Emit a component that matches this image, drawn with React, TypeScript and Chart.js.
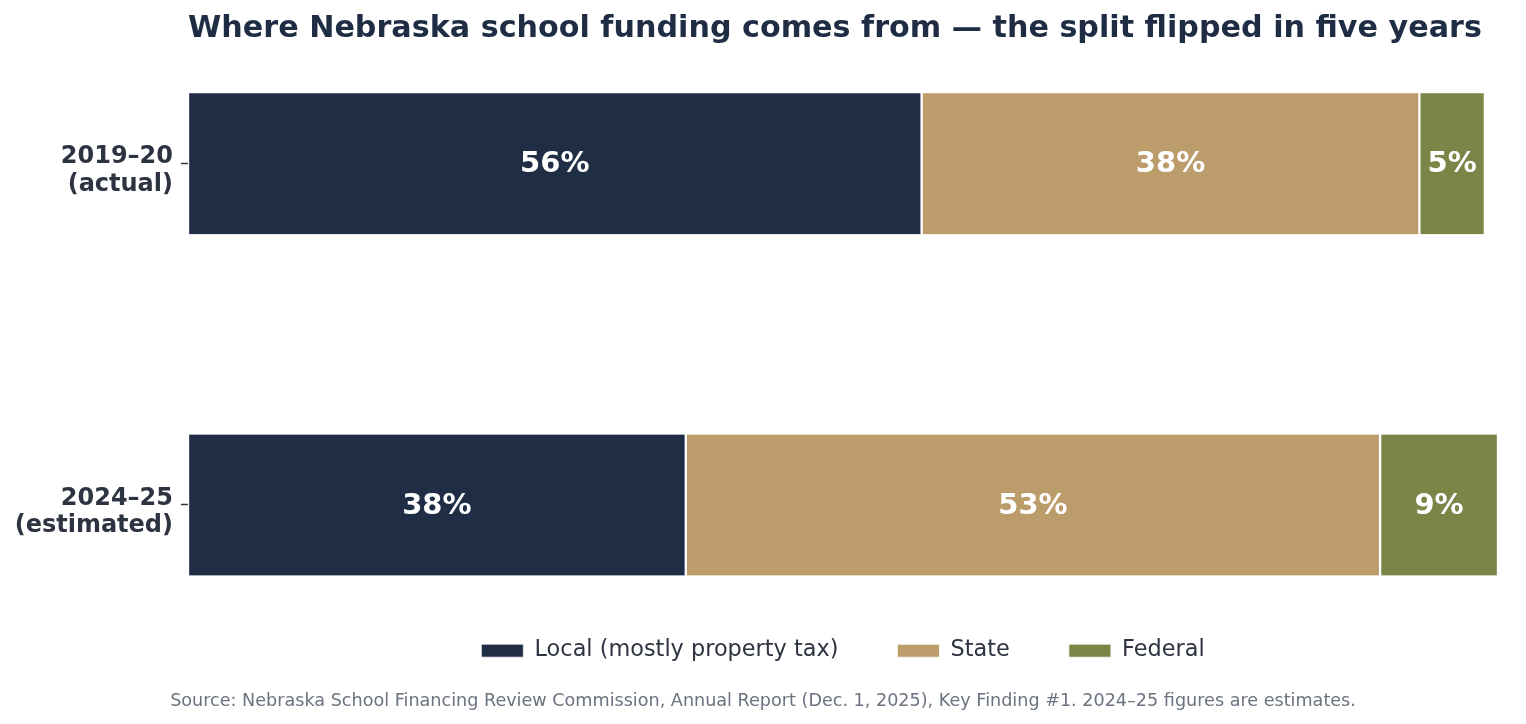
import { useEffect, useRef } from "react"
import { Chart, registerables, Plugin } from "chart.js"

Chart.register(...registerables)

const years = [["2019–20", "(actual)"], ["2024–25", "(estimated)"]]
const sources = ["Local (mostly property tax)", "State", "Federal"]
const localShare = [56, 38]
const stateShare = [38, 53]
const federalShare = [5, 9]
const colors = ["#1f2e45", "#bb9c6a", "#7a8548"]

const FONT = "'DejaVu Sans', sans-serif"

// writes the percentage in the middle of every segment
const segmentLabels: Plugin<"bar"> = {
  id: "segmentLabels",
  afterDatasetsDraw(chart) {
    const ctx = chart.ctx
    ctx.save()
    ctx.font = `bold 29px ${FONT}`
    ctx.fillStyle = "#ffffff"
    ctx.textAlign = "center"
    ctx.textBaseline = "middle"
    chart.data.datasets.forEach((ds, i) => {
      const meta = chart.getDatasetMeta(i)
      meta.data.forEach((bar: any, j) => {
        const v = ds.data[j] as number
        const { x, base, y } = bar.getProps(["x", "base", "y"], true)
        ctx.fillText(v + "%", (x + base) / 2, y + 1)
      })
    })
    ctx.restore()
  },
}

export default function App() {
  const canvasRef = useRef<HTMLCanvasElement>(null)

  useEffect(() => {
    document.body.style.margin = "0"
    if (!canvasRef.current) return
    const values = [localShare, stateShare, federalShare]
    const chart = new Chart(canvasRef.current, {
      type: "bar",
      data: {
        labels: years,
        datasets: sources.map((name, i) => ({
          label: name,
          data: values[i],
          backgroundColor: colors[i],
          borderColor: "#ffffff",
          borderWidth: { left: 1.5, right: 1.5, top: 0, bottom: 0 },
          borderSkipped: false,
          barThickness: 141,
          clip: false as any,
        })),
      },
      options: {
        indexAxis: "y",
        animation: false,
        responsive: false,
        layout: { padding: 0 },
        scales: {
          x: {
            stacked: true,
            min: 0,
            max: 100,
            ticks: { display: false },
            grid: { display: false },
            border: { display: false },
            afterFit: (s: any) => {
              s.height = 75.5
            },
          },
          y: {
            stacked: true,
            offset: false,
            ticks: {
              color: "#2d3340",
              padding: 8,
              labelOffset: 7,
              font: { family: FONT, size: 24, weight: "bold", lineHeight: 1.13 },
            },
            grid: {
              display: true,
              offset: false,
              drawOnChartArea: false,
              tickLength: 7,
              tickColor: "#2d3340",
              tickWidth: 1.5,
            },
            border: { display: false },
            afterFit: (s: any) => {
              s.width = 188
            },
          },
          // empty right-hand margin so the source line stays centred on the page
          yRight: {
            type: "category",
            position: "right",
            ticks: { display: false },
            grid: { display: false },
            border: { display: false },
            afterFit: (s: any) => {
              s.width = 28
            },
          },
        },
        plugins: {
          title: {
            display: true,
            fullSize: false,
            text: "Where Nebraska school funding comes from — the split flipped in five years",
            color: "#1f2d44",
            font: { family: FONT, size: 30.2, weight: "bold" },
            align: "start",
            padding: { top: 11, bottom: 116.5 },
          },
          subtitle: {
            display: true,
            position: "bottom",
            text: "Source: Nebraska School Financing Review Commission, Annual Report (Dec. 1, 2025), Key Finding #1. 2024–25 figures are estimates.",
            color: "#6b7280",
            font: { family: FONT, size: 17.6 },
            padding: { top: 19, bottom: 12 },
          },
          legend: {
            position: "bottom",
            fullSize: false,
            labels: {
              boxWidth: 42,
              boxHeight: 13,
              padding: 59,
              color: "#2d3340",
              font: { family: FONT, size: 22.4 },
            },
          },
          tooltip: { enabled: false },
        },
      },
      plugins: [segmentLabels],
    })
    return () => chart.destroy()
  }, [])

  return <canvas ref={canvasRef} width={1526} height={724} style={{ display: "block" }} />
}
